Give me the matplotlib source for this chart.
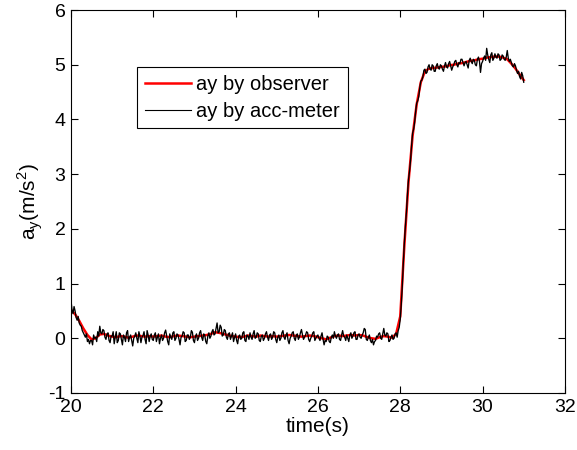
import numpy as np
import matplotlib
matplotlib.use('Agg')
import matplotlib.pyplot as plt

plt.rcParams['font.family'] = ['Liberation Sans', 'DejaVu Sans']
plt.rcParams['axes.unicode_minus'] = False
plt.rcParams['mathtext.fontset'] = 'custom'
plt.rcParams['mathtext.rm'] = 'Liberation Sans'

# observer estimate, sampled every 0.1 s from 20.0 to 31.0
obs_start, obs_step = 20.0, 0.1
ay_observer = [
    0.52, 0.44, 0.32, 0.18, 0.06, -0.02, 0.00, 0.07, 0.08, 0.05,
    0.03, 0.02, 0.04, 0.03, 0.01, 0.03, 0.05, 0.04, 0.03, 0.04,
    0.03, 0.04, 0.05, 0.03, 0.02, 0.04, 0.05, 0.04, 0.03, 0.02,
    0.03, 0.04, 0.05, 0.06, 0.08, 0.11, 0.10, 0.08, 0.06, 0.04,
    0.03, 0.02, 0.03, 0.05, 0.04, 0.03, 0.05, 0.04, 0.03, 0.04,
    0.03, 0.04, 0.05, 0.06, 0.05, 0.04, 0.03, 0.04, 0.05, 0.04,
    0.02, 0.00, -0.02, 0.01, 0.04, 0.05, 0.04, 0.05, 0.06, 0.05,
    0.06, 0.05, 0.02, 0.00, -0.01, 0.02, 0.04, 0.03, 0.01, 0.08,
    0.40, 1.70, 2.85, 3.70, 4.28, 4.68, 4.88, 4.93, 4.94, 4.95,
    4.96, 4.97, 4.99, 5.00, 5.02, 5.03, 5.05, 5.07, 5.08, 5.10,
    5.11, 5.13, 5.14, 5.15, 5.15, 5.13, 5.10, 5.02, 4.93, 4.82,
    4.72,
]

# accelerometer reading, sampled every 0.025 s from 20.0 to 31.0
acc_start, acc_step = 20.0, 0.025
ay_accmeter = [
    0.70, 0.52, 0.45, 0.58, 0.50, 0.38, 0.33, 0.40, 0.28, 0.24,
    0.22, 0.14, 0.10, 0.06, 0.02, 0.08, -0.06, -0.02, -0.10, -0.04,
    -0.04, -0.12, 0.06, 0.00, 0.02, -0.06, 0.12, 0.04, 0.22, 0.10,
    0.08, 0.16, 0.14, 0.02, -0.02, 0.08, 0.10, -0.04, -0.08, 0.04,
    0.04, 0.12, -0.10, 0.02, 0.12, -0.08, -0.04, 0.10, 0.08, -0.02,
    -0.12, 0.06, 0.02, -0.06, 0.10, 0.14, -0.06, 0.02, 0.06, -0.04,
    -0.14, 0.00, 0.04, 0.10, 0.00, -0.08, 0.12, 0.04, -0.08, 0.02,
    0.05, 0.12, -0.02, -0.10, 0.14, 0.06, -0.06, 0.04, 0.08, -0.02,
    -0.04, 0.06, 0.10, -0.06, 0.02, 0.08, -0.10, 0.00, 0.06, -0.04,
    0.00, 0.10, 0.15, 0.04, -0.06, -0.12, 0.08, 0.02, -0.02, 0.10,
    0.12, -0.04, 0.00, 0.08, 0.06, -0.02, -0.12, 0.02, 0.04, 0.12,
    0.10, -0.06, -0.04, 0.06, 0.06, -0.02, 0.02, 0.14, 0.11, -0.04,
    -0.08, 0.04, 0.08, -0.04, 0.00, 0.10, 0.14, 0.02, -0.04, 0.08,
    0.06, -0.06, -0.10, 0.04, 0.10, 0.00, 0.04, 0.12, 0.16, 0.06,
    0.08, 0.18, 0.28, 0.10, 0.12, 0.24, 0.20, 0.04, 0.06, 0.16,
    0.14, 0.02, -0.02, 0.08, 0.10, -0.02, 0.04, 0.10, -0.06, 0.02,
    0.08, -0.04, -0.10, 0.04, 0.06, -0.02, 0.00, 0.10, 0.12, -0.04,
    -0.06, 0.06, 0.04, -0.02, 0.10, 0.02, -0.02, 0.08, 0.14, 0.00,
    0.02, 0.10, 0.08, -0.04, -0.06, 0.04, 0.06, -0.04, 0.00, 0.08,
    0.12, 0.02, -0.04, 0.06, 0.08, -0.02, 0.02, 0.12, 0.10, -0.02,
    -0.08, 0.02, 0.06, -0.04, 0.00, 0.10, 0.14, 0.02, -0.02, 0.06,
    0.10, -0.04, -0.10, 0.00, 0.04, 0.10, 0.12, 0.00, -0.04, 0.06,
    0.08, -0.02, 0.02, 0.10, 0.16, 0.06, -0.02, 0.02, 0.06, 0.12,
    0.10, -0.02, -0.06, 0.00, 0.04, 0.10, 0.12, -0.04, 0.00, 0.04,
    0.06, 0.00, -0.04, 0.04, 0.10, -0.02, -0.12, -0.04, -0.06, 0.04,
    0.02, -0.06, -0.08, 0.02, 0.06, 0.00, 0.12, 0.04, 0.00, 0.06,
    0.08, -0.02, -0.04, 0.06, 0.14, 0.04, 0.02, -0.04, 0.06, 0.00,
    -0.06, 0.06, 0.10, 0.00, 0.04, 0.10, 0.12, -0.02, -0.02, 0.06,
    0.08, 0.02, 0.00, 0.06, 0.10, 0.18, 0.16, -0.02, -0.04, 0.02,
    0.06, -0.04, -0.08, -0.02, -0.12, -0.06, -0.04, 0.04, 0.02, 0.08,
    0.10, 0.00, -0.02, 0.08, 0.18, 0.06, 0.04, 0.10, 0.08, -0.06,
    -0.04, 0.02, 0.06, -0.02, 0.00, 0.08, 0.10, 0.02, 0.14, 0.20,
    0.35, 0.62, 0.95, 1.38, 1.75, 2.05, 2.30, 2.62, 2.90, 3.05,
    3.25, 3.52, 3.75, 3.82, 3.95, 4.15, 4.30, 4.34, 4.42, 4.58,
    4.70, 4.72, 4.78, 4.90, 4.92, 4.84, 4.86, 4.96, 5.00, 4.92,
    4.90, 5.00, 4.98, 4.88, 4.88, 4.98, 5.02, 4.94, 4.92, 5.00,
    4.98, 4.92, 4.88, 4.98, 5.04, 4.96, 4.94, 5.02, 5.06, 4.98,
    4.90, 4.96, 5.00, 5.06, 5.08, 5.00, 4.96, 5.04, 5.02, 5.10,
    5.10, 5.04, 4.98, 5.04, 5.06, 5.00, 4.94, 5.08, 5.12, 5.06,
    5.02, 5.10, 5.08, 5.00, 4.98, 5.10, 5.14, 5.06, 4.86, 5.02,
    5.06, 5.12, 5.16, 5.08, 5.30, 5.18, 5.10, 5.04, 5.18, 5.22,
    5.08, 5.12, 5.20, 5.14, 5.12, 5.20, 5.18, 5.08, 5.10, 5.18,
    5.16, 5.10, 5.08, 5.14, 5.26, 5.12, 5.06, 5.10, 5.04, 4.98,
    4.96, 5.02, 4.98, 4.90, 4.84, 4.88, 4.78, 4.74, 4.86, 4.80,
    4.68,
]

t_obs = obs_start + obs_step * np.arange(len(ay_observer))
t_acc = acc_start + acc_step * np.arange(len(ay_accmeter))

fig = plt.figure(figsize=(5.77, 4.5), dpi=100)
ax = fig.add_axes([0.123, 0.1267, 0.856, 0.851])

ax.plot(t_obs, ay_observer, color='red', lw=1.8, label='ay by observer')
ax.plot(t_acc, ay_accmeter, color='black', lw=0.95, label='ay by acc-meter')

ax.set_xlim(20, 32)
ax.set_ylim(-1, 6)
ax.set_xticks(np.arange(20, 33, 2))
ax.set_yticks(np.arange(-1, 7, 1))
ax.tick_params(direction='in', top=True, right=True, labelsize=14, length=5, pad=4)
for s in ax.spines.values():
    s.set_linewidth(0.8)

ax.set_xlabel('time(s)', fontsize=15, labelpad=1)
ax.set_ylabel('a$_\\mathregular{y}$(m/s$^\\mathregular{2}$)', fontsize=15, labelpad=2)

leg = ax.legend(loc='upper left', bbox_to_anchor=(0.134, 0.851), fontsize=14.5,
                fancybox=False, edgecolor='black', framealpha=1,
                handlelength=2.3, handletextpad=0.25, labelspacing=0.4,
                borderaxespad=0, borderpad=0.38)
leg.get_frame().set_linewidth(0.8)
for h in leg.get_lines():
    h.set_linewidth(1.8 if h.get_color() == 'red' else 0.8)

fig.savefig('out.png', dpi=100)
